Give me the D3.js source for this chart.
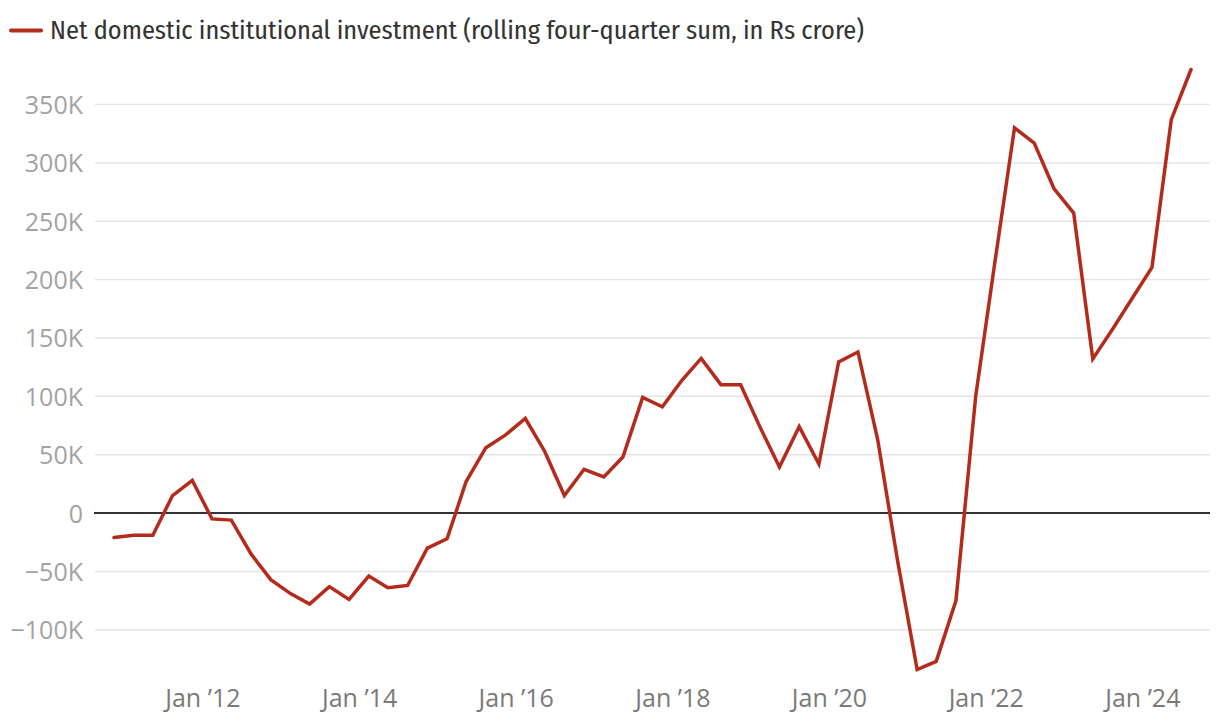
<!DOCTYPE html>
<html>
<head>
<meta charset="utf-8">
<script src="https://cdn.jsdelivr.net/npm/d3@7"></script>
<style>
  html, body { margin: 0; padding: 0; background: #fff; }
  svg { display: block; }
  text { font-family: "Fira Sans Condensed", Lato, "Liberation Sans", sans-serif; }
  .axis-label { font-family: "Open Sans", Lato, sans-serif; }
</style>
</head>
<body>
<svg id="chart" width="1220" height="724"></svg>
<script>
// Quarters (mid-quarter points), Q4 2010 .. Q3 2024
const quarters = [
  "2010-Q4",
  "2011-Q1","2011-Q2","2011-Q3","2011-Q4",
  "2012-Q1","2012-Q2","2012-Q3","2012-Q4",
  "2013-Q1","2013-Q2","2013-Q3","2013-Q4",
  "2014-Q1","2014-Q2","2014-Q3","2014-Q4",
  "2015-Q1","2015-Q2","2015-Q3","2015-Q4",
  "2016-Q1","2016-Q2","2016-Q3","2016-Q4",
  "2017-Q1","2017-Q2","2017-Q3","2017-Q4",
  "2018-Q1","2018-Q2","2018-Q3","2018-Q4",
  "2019-Q1","2019-Q2","2019-Q3","2019-Q4",
  "2020-Q1","2020-Q2","2020-Q3","2020-Q4",
  "2021-Q1","2021-Q2","2021-Q3","2021-Q4",
  "2022-Q1","2022-Q2","2022-Q3","2022-Q4",
  "2023-Q1","2023-Q2","2023-Q3","2023-Q4",
  "2024-Q1","2024-Q2","2024-Q3"
];
// Net domestic institutional investment, rolling four-quarter sum (thousand Rs crore)
const netDII = [
  -21,
  -19, -19, 15, 28,
  -5, -6, -35, -57,
  -69, -78, -63, -74,
  -54, -64, -62, -30,
  -22, 27, 56, 67,
  81, 53, 15, 37.5,
  31, 48, 99, 91,
  114, 132.5, 110, 110,
  73, 39.5, 74, 42,
  129.5, 138, 63, -40,
  -134, -127, -75, 100,
  218, 330, 317, 278,
  257, 132, 157.5, 184,
  210.5, 337, 380
];
const yTicks = [-100, -50, 0, 50, 100, 150, 200, 250, 300, 350];
const xTickYears = [2012, 2014, 2016, 2018, 2020, 2022, 2024];
const legendLabel = "Net domestic institutional investment (rolling four-quarter sum, in Rs crore)";

const parseQ = s => {
  const [y, q] = s.split("-Q").map(Number);
  return new Date(y, (q - 1) * 3 + 1, 15); // mid-quarter
};
const data = quarters.map((q, i) => ({ date: parseQ(q), value: netDII[i] }));

const svg = d3.select("#chart");
const W = 1220, H = 724;
svg.append("rect").attr("width", W).attr("height", H).attr("fill", "#fff");

const x = d3.scaleTime()
  .domain(d3.extent(data, d => d.date))
  .range([114, 1191]);
const y = d3.scaleLinear()
  .domain(d3.extent(data, d => d.value))
  .range([669.5, 69.5]);

const gridLeft = 95, gridRight = 1210;

// gridlines
const grid = svg.append("g");
grid.selectAll("line").data(yTicks.filter(t => t !== 0)).join("line")
  .attr("x1", gridLeft).attr("x2", gridRight)
  .attr("y1", d => y(d)).attr("y2", d => y(d))
  .attr("stroke", "#e5e5e5").attr("stroke-width", 1.5);

// y axis labels
const fmtY = d => d === 0 ? "0" : (d < 0 ? "\u2212" + Math.abs(d) + "K" : d + "K");
const yAxis = d3.axisLeft(y).tickValues(yTicks).tickSize(0).tickPadding(0).tickFormat(fmtY);
const yg = svg.append("g").attr("transform", "translate(83,0)").call(yAxis);
yg.select(".domain").remove();
yg.selectAll("text")
  .attr("class", "axis-label")
  .attr("x", 0).attr("dy", "0.36em")
  .attr("fill", "#a3a3a3").style("font-size", "25px").attr("text-anchor", "end");

// zero line
svg.append("line")
  .attr("x1", gridLeft - 1).attr("x2", gridRight)
  .attr("y1", y(0)).attr("y2", y(0))
  .attr("stroke", "#333").attr("stroke-width", 2);

// x axis labels
const xAxis = d3.axisBottom(x)
  .tickValues(xTickYears.map(yr => new Date(yr, 0, 1)))
  .tickSize(0).tickPadding(0)
  .tickFormat(d => "Jan \u2019" + String(d.getFullYear()).slice(2));
const xg = svg.append("g").attr("transform", "translate(0,707)").call(xAxis);
xg.select(".domain").remove();
xg.selectAll("text").attr("class", "axis-label").attr("y", 0).attr("dy", 0)
  .attr("fill", "#7a7a7a").style("font-size", "25px");

// line
const lineGen = d3.line().x(d => x(d.date)).y(d => y(d.value));
svg.append("path").datum(data)
  .attr("d", lineGen)
  .attr("fill", "none")
  .attr("stroke", "#b42b1c")
  .attr("stroke-width", 3.5)
  .attr("stroke-linejoin", "miter")
  .attr("stroke-linecap", "round");

// legend
const lg = svg.append("g");
lg.append("line").attr("x1", 11).attr("x2", 41).attr("y1", 30.5).attr("y2", 30.5)
  .attr("stroke", "#b42b1c").attr("stroke-width", 4).attr("stroke-linecap", "round");
lg.append("text").attr("x", 50).attr("y", 39)
  .attr("fill", "#333").style("font-size", "26.3px")
  .text(legendLabel);
</script>
</body>
</html>
